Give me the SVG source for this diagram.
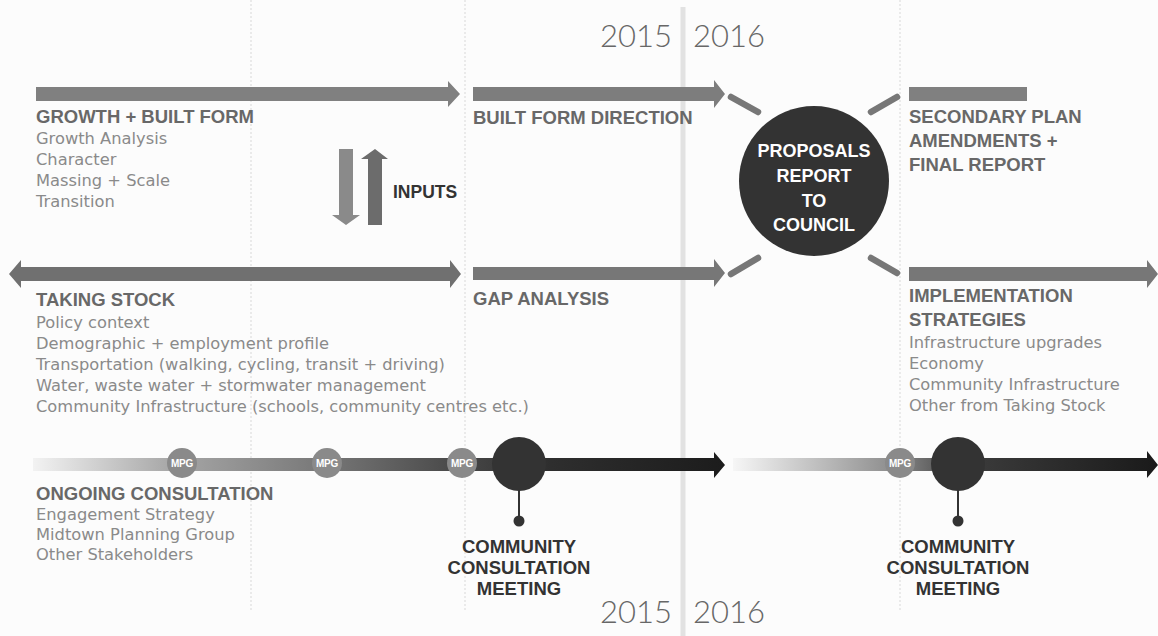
<svg xmlns="http://www.w3.org/2000/svg" width="1158" height="636" viewBox="0 0 1158 636">
  <defs>
    <linearGradient id="g1" gradientUnits="userSpaceOnUse" x1="30" y1="0" x2="725" y2="0">
      <stop offset="0" stop-color="#f4f4f4"/>
      <stop offset="0.2" stop-color="#a8a8a8"/>
      <stop offset="0.42" stop-color="#787878"/>
      <stop offset="0.62" stop-color="#474747"/>
      <stop offset="0.75" stop-color="#2e2e2e"/>
      <stop offset="1" stop-color="#1c1c1c"/>
    </linearGradient>
    <linearGradient id="g2" gradientUnits="userSpaceOnUse" x1="733" y1="0" x2="1158" y2="0">
      <stop offset="0" stop-color="#f6f6f6"/>
      <stop offset="0.38" stop-color="#8c8c8c"/>
      <stop offset="0.55" stop-color="#3c3c3c"/>
      <stop offset="1" stop-color="#1a1a1a"/>
    </linearGradient>
    <style>
      .head{font-family:"Liberation Sans",Arial,sans-serif;font-weight:bold;font-size:18.5px;fill:#686868}
      .body{font-family:"DejaVu Sans","Liberation Sans",sans-serif;font-size:16.3px;fill:#8a8a8a}
      .dark{font-family:"Liberation Sans",Arial,sans-serif;font-weight:bold;font-size:18.5px;fill:#333}
      .year{font-family:Lato,"Open Sans",sans-serif;font-weight:300;font-size:31px;fill:#676767}
      .circ{font-family:"Liberation Sans",Arial,sans-serif;font-weight:bold;font-size:18px;fill:#fff}
      .mpg{font-family:"Liberation Sans",Arial,sans-serif;font-weight:bold;font-size:10px;fill:#fff;letter-spacing:-0.3px}
      .dot{stroke:#d8d8d8;stroke-width:1;stroke-dasharray:2 2;fill:none}
      .dash{stroke:#777;stroke-width:6.5;stroke-linecap:round;fill:none}
    </style>
  </defs>
  <rect width="1158" height="636" fill="#fcfcfc"/>

  <g id="gridlines">
    <line class="dot" x1="251" y1="0" x2="251" y2="612"/>
    <line class="dot" x1="465" y1="0" x2="465" y2="612"/>
    <line class="dot" x1="900" y1="0" x2="900" y2="612"/>
    <line x1="683" y1="7" x2="683" y2="636" stroke="#e2e2e2" stroke-width="5"/>
  </g>

  <g id="years">
    <text class="year" x="600" y="47">2015</text>
    <text class="year" x="693" y="47">2016</text>
    <text class="year" x="600" y="623">2015</text>
    <text class="year" x="693" y="623">2016</text>
  </g>

  <g id="growth-built-form">
    <polygon points="36,87 448,87 448,81 460,94 448,107 448,101 36,101" fill="#808080"/>
    <text class="head" x="36" y="123">GROWTH + BUILT FORM</text>
    <text class="body" x="36" y="144">Growth Analysis</text>
    <text class="body" x="36" y="165">Character</text>
    <text class="body" x="36" y="186">Massing + Scale</text>
    <text class="body" x="36" y="207">Transition</text>
  </g>

  <g id="built-form-direction">
    <polygon points="473,87 714,87 714,80 725,94 714,108 714,101 473,101" fill="#7d7d7d"/>
    <text class="head" x="473" y="124">BUILT FORM DIRECTION</text>
  </g>

  <g id="inputs">
    <polygon points="339,149 353,149 353,215 360,215 346,225 332,215 339,215" fill="#8a8a8a"/>
    <polygon points="368,225 382,225 382,159 388,159 375,149 361,159 368,159" fill="#6c6c6c"/>
    <text class="dark" x="393" y="198" style="font-size:17.5px">INPUTS</text>
  </g>

  <g id="taking-stock">
    <polygon points="9,274 21,260 21,267 450,267 450,260 461,274 450,288 450,281 21,281 21,288" fill="#707070"/>
    <text class="head" x="36" y="306">TAKING STOCK</text>
    <text class="body" x="36" y="328">Policy context</text>
    <text class="body" x="36" y="349">Demographic + employment profile</text>
    <text class="body" x="36" y="370">Transportation (walking, cycling, transit + driving)</text>
    <text class="body" x="36" y="391">Water, waste water + stormwater management</text>
    <text class="body" x="36" y="412">Community Infrastructure (schools, community centres etc.)</text>
  </g>

  <g id="gap-analysis">
    <polygon points="473,267 714,267 714,259 725,273 714,287 714,280 473,280" fill="#777"/>
    <text class="head" x="473" y="305">GAP ANALYSIS</text>
  </g>

  <g id="connectors">
    <line class="dash" x1="731" y1="97" x2="758" y2="112"/>
    <line class="dash" x1="871" y1="112" x2="897" y2="97"/>
    <line class="dash" x1="731" y1="274" x2="758" y2="258"/>
    <line class="dash" x1="871" y1="258" x2="897" y2="273"/>
  </g>

  <g id="proposals-report">
    <circle cx="814" cy="181" r="75" fill="#333"/>
    <text class="circ" x="814" y="157" text-anchor="middle">PROPOSALS</text>
    <text class="circ" x="814" y="182" text-anchor="middle">REPORT</text>
    <text class="circ" x="814" y="207" text-anchor="middle">TO</text>
    <text class="circ" x="814" y="231" text-anchor="middle">COUNCIL</text>
  </g>

  <g id="secondary-plan">
    <rect x="909" y="87" width="118" height="14" fill="#808080"/>
    <text class="head" x="909" y="123">SECONDARY PLAN</text>
    <text class="head" x="909" y="147">AMENDMENTS +</text>
    <text class="head" x="909" y="171">FINAL REPORT</text>
  </g>

  <g id="implementation">
    <polygon points="909,267 1147,267 1147,260 1158,274 1147,288 1147,281 909,281" fill="#777"/>
    <text class="head" x="909" y="302">IMPLEMENTATION</text>
    <text class="head" x="909" y="326">STRATEGIES</text>
    <text class="body" x="909" y="348">Infrastructure upgrades</text>
    <text class="body" x="909" y="369">Economy</text>
    <text class="body" x="909" y="390">Community Infrastructure</text>
    <text class="body" x="909" y="411">Other from Taking Stock</text>
  </g>

  <g id="ongoing-consultation">
    <polygon points="33,458 714,458 714,452 725,465 714,478 714,471 33,471" fill="url(#g1)"/>
    <circle cx="182" cy="463" r="15" fill="#8a8a8a"/>
    <text class="mpg" x="182" y="467" text-anchor="middle">MPG</text>
    <circle cx="327" cy="463" r="15" fill="#8a8a8a"/>
    <text class="mpg" x="327" y="467" text-anchor="middle">MPG</text>
    <circle cx="462" cy="463" r="15" fill="#8a8a8a"/>
    <text class="mpg" x="462" y="467" text-anchor="middle">MPG</text>
    <text class="head" x="36" y="500">ONGOING CONSULTATION</text>
    <text class="body" x="36" y="520">Engagement Strategy</text>
    <text class="body" x="36" y="540">Midtown Planning Group</text>
    <text class="body" x="36" y="560">Other Stakeholders</text>
  </g>

  <g id="community-meeting-2015">
    <line x1="519" y1="480" x2="519" y2="520" stroke="#333" stroke-width="2"/>
    <circle cx="519" cy="521" r="5.5" fill="#333"/>
    <circle cx="519" cy="464" r="27" fill="#333"/>
    <text class="dark" x="519" y="553" text-anchor="middle">COMMUNITY</text>
    <text class="dark" x="519" y="574" text-anchor="middle">CONSULTATION</text>
    <text class="dark" x="519" y="595" text-anchor="middle">MEETING</text>
  </g>

  <g id="ongoing-consultation-2016">
    <polygon points="733,458 1147,458 1147,451 1158,465 1147,478 1147,471 733,471" fill="url(#g2)"/>
    <circle cx="900" cy="463" r="15" fill="#8a8a8a"/>
    <text class="mpg" x="900" y="467" text-anchor="middle">MPG</text>
  </g>

  <g id="community-meeting-2016">
    <line x1="958" y1="480" x2="958" y2="520" stroke="#333" stroke-width="2"/>
    <circle cx="958" cy="521" r="5.5" fill="#333"/>
    <circle cx="958" cy="464" r="27" fill="#333"/>
    <text class="dark" x="958" y="553" text-anchor="middle">COMMUNITY</text>
    <text class="dark" x="958" y="574" text-anchor="middle">CONSULTATION</text>
    <text class="dark" x="958" y="595" text-anchor="middle">MEETING</text>
  </g>
</svg>
